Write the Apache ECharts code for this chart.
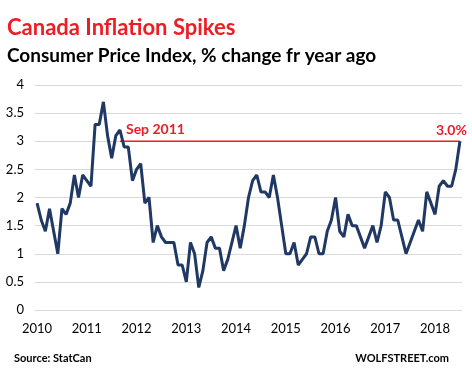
<!DOCTYPE html>
<html>
<head>
<meta charset="utf-8">
<script src="https://cdn.jsdelivr.net/npm/echarts@6/dist/echarts.min.js"></script>
<style>html,body{margin:0;padding:0;background:#fff}#c{width:472px;height:370px}</style>
</head>
<body>
<div id="c"></div>
<script>
var years = ['2010','2011','2012','2013','2014','2015','2016','2017','2018'];
var months = ['Jan','Feb','Mar','Apr','May','Jun','Jul','Aug','Sep','Oct','Nov','Dec'];
// CPI % change year over year, Jan 2010 - Jul 2018
var cpi2010 = [1.9,1.6,1.4,1.8,1.4,1.0,1.8,1.7,1.9,2.4,2.0,2.4];
var cpi2011 = [2.3,2.2,3.3,3.3,3.7,3.1,2.7,3.1,3.2,2.9,2.9,2.3];
var cpi2012 = [2.5,2.6,1.9,2.0,1.2,1.5,1.3,1.2,1.2,1.2,0.8,0.8];
var cpi2013 = [0.5,1.2,1.0,0.4,0.7,1.2,1.3,1.1,1.1,0.7,0.9,1.2];
var cpi2014 = [1.5,1.1,1.5,2.0,2.3,2.4,2.1,2.1,2.0,2.4,2.0,1.5];
var cpi2015 = [1.0,1.0,1.2,0.8,0.9,1.0,1.3,1.3,1.0,1.0,1.4,1.6];
var cpi2016 = [2.0,1.4,1.3,1.7,1.5,1.5,1.3,1.1,1.3,1.5,1.2,1.5];
var cpi2017 = [2.1,2.0,1.6,1.6,1.3,1.0,1.2,1.4,1.6,1.4,2.1,1.9];
var cpi2018 = [1.7,2.2,2.3,2.2,2.2,2.5,3.0];
var yTicks = [0,0.5,1,1.5,2,2.5,3,3.5,4];
var refStart = 'Sep 2011';
var refValue = 3.0;
var refLabelStart = 'Sep 2011';
var refLabelEnd = '3.0%';

var values = [].concat(cpi2010,cpi2011,cpi2012,cpi2013,cpi2014,cpi2015,cpi2016,cpi2017,cpi2018);
var categories = [];
years.forEach(function(y){ months.forEach(function(m){ categories.push(m+' '+y); }); });
categories = categories.slice(0, values.length);
var startIdx = categories.indexOf(refStart);
var lastIdx = categories.length - 1;

var FONT = 'Lato';
var RED = '#e8202a';
var labelStyle = {color:RED, fontFamily:FONT, fontWeight:'bold', fontSize:14};
var refData = categories.map(function(c, i){
  if (i < startIdx) return null;
  return refValue;
});

var chart = echarts.init(document.getElementById('c'), null, {renderer:'canvas'});
chart.setOption({
  animation:false,
  backgroundColor:'#fff',
  title:[
    {text:'Canada Inflation Spikes', left:2, top:12,
     textStyle:{color:'#ee1d25', fontFamily:FONT, fontWeight:'bold', fontSize:22}},
    {text:'Consumer Price Index, % change fr year ago', left:2, top:41,
     textStyle:{color:'#000', fontFamily:FONT, fontWeight:'bold', fontSize:19}},
    {text:'Source: StatCan', left:9, top:348,
     textStyle:{color:'#000', fontFamily:FONT, fontWeight:'bold', fontSize:11}},
    {text:'WOLFSTREET.com', right:18, top:348,
     textStyle:{color:'#000', fontFamily:FONT, fontWeight:'bold', fontSize:11}}
  ],
  grid:{left:35, right:10, top:85, bottom:60, containLabel:false},
  xAxis:{
    type:'category', data:categories, boundaryGap:true,
    axisLine:{show:false}, axisTick:{show:false},
    axisLabel:{interval:11, margin:12, color:'#000', fontFamily:FONT, fontSize:13,
      formatter:function(v){return v.split(' ')[1];}},
    splitLine:{show:false}
  },
  yAxis:{
    type:'value', min:yTicks[0], max:yTicks[yTicks.length-1], interval:0.5,
    axisLine:{show:false}, axisTick:{show:false},
    axisLabel:{margin:11, color:'#000', fontFamily:FONT, fontSize:13},
    splitLine:{lineStyle:{color:'#d9d9d9', width:1}}
  },
  series:[
    {
      type:'line', data:refData, symbol:'none', connectNulls:false, silent:true,
      lineStyle:{color:RED, width:1.3}, itemStyle:{color:RED}, z:2,
      markPoint:{
        symbol:'circle', symbolSize:0, silent:true,
        data:[
          {coord:[refStart, refValue], label:Object.assign({show:true, position:'right', distance:0, offset:[6,-12], formatter:refLabelStart}, labelStyle)},
          {coord:[categories[lastIdx], refValue], label:Object.assign({show:true, position:'left', distance:0, offset:[7,-11], formatter:refLabelEnd}, labelStyle)}
        ]
      }
    },
    {
      type:'line', data:values, symbol:'none', smooth:false,
      lineStyle:{color:'#203864', width:3}, itemStyle:{color:'#203864'}, z:3
    }
  ]
});
</script>
</body>
</html>
